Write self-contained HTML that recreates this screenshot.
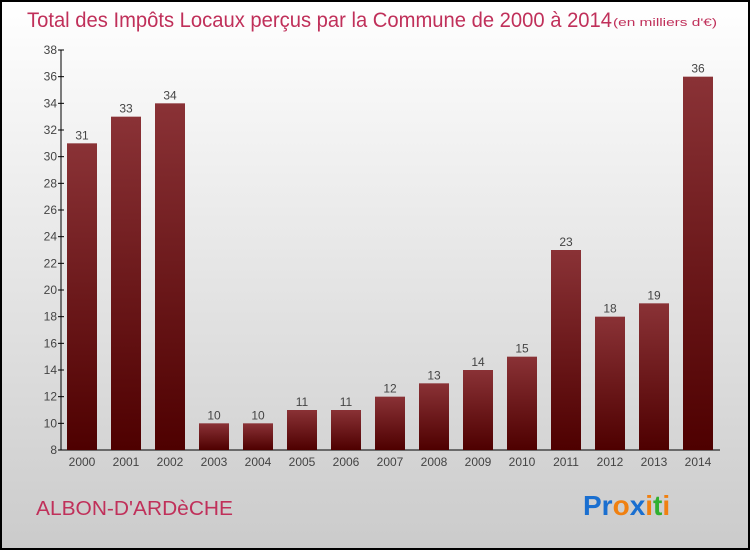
<!DOCTYPE html>
<html><head><meta charset="utf-8"><style>
body{margin:0;width:750px;height:550px;overflow:hidden;font-family:"Liberation Sans",sans-serif}
</style></head><body>
<svg width="750" height="550" xmlns="http://www.w3.org/2000/svg">
<defs>
<linearGradient id="bg" x1="0" y1="0" x2="0" y2="1"><stop offset="0" stop-color="#ffffff"/><stop offset="1" stop-color="#cbcbcb"/></linearGradient>
<linearGradient id="bar" x1="0" y1="0" x2="0" y2="1"><stop offset="0" stop-color="#8a3236"/><stop offset="1" stop-color="#4e0000"/></linearGradient>
</defs>
<rect x="1" y="1" width="748" height="548" fill="url(#bg)" stroke="#000" stroke-width="2"/>
<text x="27" y="27" font-size="21" fill="#c0305a" textLength="585" lengthAdjust="spacingAndGlyphs">Total des Impôts Locaux perçus par la Commune de 2000 à 2014</text>
<text x="613" y="26" font-size="11" fill="#c0305a" textLength="104" lengthAdjust="spacingAndGlyphs">(en milliers d'€)</text>
<g id="axes"></g>
<g id="bars"></g>
<text x="36" y="515" font-size="20" fill="#c0305a" textLength="197" lengthAdjust="spacingAndGlyphs">ALBON-D'ARDèCHE</text>
<text x="583" y="515" font-size="28" font-weight="bold"><tspan fill="#1a6fd0">Pr</tspan><tspan fill="#f08010">o</tspan><tspan fill="#1a6fd0">x</tspan><tspan fill="#f08010">i</tspan><tspan fill="#30b030">t</tspan><tspan fill="#f08010">i</tspan></text>
</svg>
<script>
const years=["2000","2001","2002","2003","2004","2005","2006","2007","2008","2009","2010","2011","2012","2013","2014"];
const values=[31,33,34,10,10,11,11,12,13,14,15,23,18,19,36];
const yTicks=[8,10,12,14,16,18,20,22,24,26,28,30,32,34,36,38];
const NS="http://www.w3.org/2000/svg";
const y=v=>450-(v-8)*(400/30);
const x=i=>82+i*44;
const ax=document.getElementById('axes'),bg=document.getElementById('bars');
function mk(t,a,p){const e=document.createElementNS(NS,t);for(const k in a)e.setAttribute(k,a[k]);p.appendChild(e);return e;}
let l=mk('line',{x1:61,y1:50,x2:61,y2:450,stroke:'#000'},ax);


l=mk('line',{x1:61,y1:450,x2:720,y2:450,stroke:'#000'},ax);


yTicks.forEach(v=>{
 mk('line',{x1:58,x2:64,y1:y(v),y2:y(v),stroke:'#000'},ax);
 const t=mk('text',{x:57,y:y(v)+4,'text-anchor':'end','font-size':12,fill:'#444'},ax);
 t.textContent=v;
 
 
});
years.forEach((yr,i)=>{
 const r=mk('rect',{x:x(i)-15,y:y(values[i]),width:30,height:450-y(values[i]),fill:'url(#bar)'},bg);
 
 
 const v=mk('text',{x:x(i),y:y(values[i])-4,'text-anchor':'middle','font-size':12,fill:'#444'},bg);
 v.textContent=values[i];
 
 
 const t=mk('text',{x:x(i),y:466,'text-anchor':'middle','font-size':12,fill:'#444'},bg);
 t.textContent=yr;
 
 
});
</script>
</body></html>
